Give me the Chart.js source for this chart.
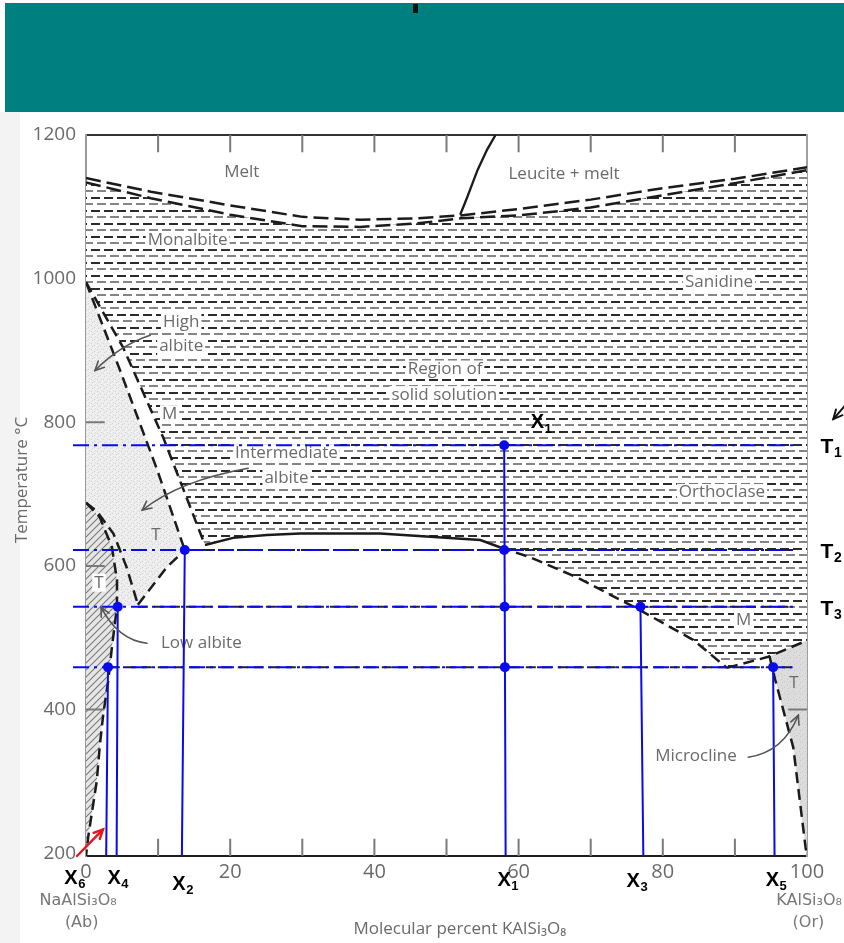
<!DOCTYPE html>
<html><head><meta charset="utf-8">
<script src="https://cdn.jsdelivr.net/npm/chart.js@4.4.1/dist/chart.umd.min.js"></script>
<style>
html,body{margin:0;padding:0;background:#fff;}
#wrap{position:relative;width:844px;height:943px;overflow:hidden;}
#strip{position:absolute;left:0;top:112px;width:20px;height:831px;background:#f3f3f3;}
#banner{position:absolute;left:5px;top:3px;width:839px;height:109px;background:#007f80;}
#mark{position:absolute;left:413px;top:4px;width:5px;height:9px;background:#111;}
canvas{position:absolute;left:0;top:0;}
</style></head><body>
<div id="wrap"><div id="strip"></div><canvas id="c" width="844" height="943"></canvas><div id="banner"></div><div id="mark"></div></div>
<script>
// ---------- data (x = mol % KAlSi3O8, y = temperature °C) ----------
const xTickValues = [0, 20, 40, 60, 80, 100];
const xMinorTicks = [10, 20, 30, 40, 50, 60, 70, 80, 90];
const yTickValues = [200, 400, 600, 800, 1000, 1200];
const yLeftInnerTicks = [400, 600, 800];
const yRightInnerTicks = [400];

const liquidus = [[0,1140],[9,1121],[20,1102],[30,1086],[38,1082],[46,1084],[52,1088],[60,1097],[70,1110],[80,1126],[90,1139],[100,1155]];
const solidus  = [[0,1134],[9,1112],[20,1089],[30,1073],[38,1072],[46,1077],[52,1084],[60,1088],[70,1099],[80,1116],[90,1133],[100,1151]];
const leucite  = [[51.9,1089],[52.9,1114],[54.3,1151],[55.6,1179],[56.8,1200]];
const lineA    = [[0,995],[4.7,873],[9.9,733],[13.7,622]];
const lineB    = [[0,995],[5.1,905],[10.7,779],[16.5,629]];
const solvusSolid  = [[16.5,629],[20.4,639],[25.1,643],[29.7,645],[40.8,645],[54.7,636],[57.4,626]];
const solvusDashed = [[57.4,626],[61.6,612],[68.1,584],[76.9,538],[84.2,497],[88.9,458]];
const rightArm = [[88.9,458],[94.5,473],[100,496]];
const lineE    = [[7.2,546],[11.2,598],[13.7,622]];
const lineD    = [[0,688],[1.5,676],[3.8,645],[5.6,599],[7.2,546]];
const lineC    = [[0,688],[1.9,668],[3.6,626],[4.3,580],[4.3,543],[3.6,487],[3.1,441],[2.4,394],[1.9,348],[1.5,301],[0.8,255],[0.3,222],[0,196]];
const microcline = [[94.8,474],[95.6,441],[98.1,347],[99.8,208],[100,196]];

const tempLevels = [768, 622, 543, 459];
const tempNames  = ['1', '2', '3'];
const tempLineStart = -1.8;
const tempLineEnd = [98.8, 98.1, 98.1, 98.0];
const tempUnderlayStart = [null, 16.5, 7.2, 3.3];

const compNames  = ['1', '2', '3', '4', '5', '6'];
const compTop    = [[58.0,768],[13.7,622],[76.9,543],[4.4,543],[95.3,459],[3.05,459]];
const compBottom = [[58.2,196],[13.3,196],[77.3,196],[4.25,196],[95.5,196],[2.8,196]];
const compDots   = [[58.0,768],[58.0,622],[58.05,543],[58.1,459],[13.7,622],[76.9,543],[4.4,543],[95.3,459],[3.05,459]];
const compLabelX = [58.0, 12.9, 75.9, 3.89, 95.2, -2.08];

const regionLabels = [
  ['Melt',21.6,1148.5,false],['Leucite + melt',66.3,1145.7,false],['Monalbite',14.1,1053.7,true],['Sanidine',87.8,995.2,true],
  ['High',13.2,939,true],['albite',13.2,906,true],['Region of',49.8,873.4,true],['solid solution',49.7,837.8,true],
  ['M',11.6,811.3,true],['Intermediate',27.8,757,true],['albite',27.8,722,true],['Orthoclase',88.2,702,true],
  ['T',9.7,642.8,false],['T',1.8,576.6,true],['Low albite',16.0,492.3,false],['M',91.2,524,true],
  ['T',98.2,437.3,false],['Microcline',84.6,335.6,false]
];
const pointerArrows = [
  [[8.9,921],[4.7,907],[1.25,872]],
  [[22.5,736],[13.0,719],[7.8,677.6]],
  [[8.46,492.3],[4.44,496.5],[2.08,542.5]],
  [[91.85,333.5],[96.7,340.5],[98.8,392]]
];

// ---------- helpers ----------
const P = a => a.map(([x, y]) => ({x, y}));
const ctx = document.getElementById('c').getContext('2d');
function tile(w, h, fn) { const c = document.createElement('canvas'); c.width = w; c.height = h; fn(c.getContext('2d'), w, h); return ctx.createPattern(c, 'repeat'); }
const patDash = tile(13, 13, g => {
  g.fillStyle = '#fff'; g.fillRect(0, 0, 13, 13);
  g.fillStyle = '#2b2b2b'; g.fillRect(0, 2, 9, 2);
  g.fillStyle = '#858585'; g.fillRect(6, 8, 7, 2); g.fillRect(0, 8, 2, 2);
});
const patStipple = tile(6, 6, g => {
  g.fillStyle = '#ececec'; g.fillRect(0, 0, 6, 6);
  g.fillStyle = '#d5d5d5'; [[1,1],[4,3],[2,4],[5,0]].forEach(([a,b]) => g.fillRect(a, b, 1, 1));
  g.fillStyle = '#fafafa'; [[3,0],[0,3],[5,5]].forEach(([a,b]) => g.fillRect(a, b, 1, 1));
});
const patGrey = tile(6, 6, g => {
  g.fillStyle = '#dcdcdc'; g.fillRect(0, 0, 6, 6);
  g.fillStyle = '#c8c8c8'; [[1,1],[4,3],[2,4]].forEach(([a,b]) => g.fillRect(a, b, 1, 1));
});
const patDiag = tile(7, 7, g => {
  g.fillStyle = '#e6e6e6'; g.fillRect(0, 0, 7, 7);
  g.strokeStyle = '#7a7a7a'; g.lineWidth = 1.1;
  [[0,7,7,0],[-2,2,2,-2],[5,9,9,5]].forEach(([a,b,c,d]) => { g.beginPath(); g.moveTo(a,b); g.lineTo(c,d); g.stroke(); });
});

const solidPoly = [...solidus, ...rightArm.slice().reverse(), ...solvusDashed.slice().reverse(), ...solvusSolid.slice().reverse(), ...lineB.slice().reverse()];
const stipplePoly = [...lineA, ...lineE.slice(0, -1).reverse(), ...lineC.filter(p => p[1] >= 543).reverse()];
const hatchPoly = [...lineC];
const greyPoly = [...microcline, rightArm[rightArm.length - 1]];

const base = {xAxisID: 'x', yAxisID: 'y', showLine: true, pointRadius: 0, pointHoverRadius: 0, tension: 0, fill: false};
function lineDs(label, pts, color, width, dash, order, extra) { return Object.assign({}, base, {label, data: pts, borderColor: color, borderWidth: width, borderDash: dash, order}, extra || {}); }
function fillDs(label, pts, pattern, order) { return Object.assign({}, base, {label, data: P(pts), fill: 'shape', backgroundColor: pattern, borderWidth: 0, borderColor: 'rgba(0,0,0,0)', order}); }

const tickLenT = 24, tickLenX = 2.6;
const tickPts = [];
xMinorTicks.forEach(v => { tickPts.push({x: v, y: 196}, {x: v, y: 196 + tickLenT}, {x: v, y: null}, {x: v, y: 1200}, {x: v, y: 1200 - tickLenT}, {x: v, y: null}); });
yLeftInnerTicks.forEach(v => { tickPts.push({x: 0, y: v}, {x: tickLenX, y: v}, {x: 0, y: null}); });
yRightInnerTicks.forEach(v => { tickPts.push({x: 100, y: v}, {x: 100 - tickLenX, y: v}, {x: 100, y: null}); });

const blueH = [], blackH = [];
tempLevels.forEach((t, i) => {
  blueH.push({x: tempLineStart, y: t}, {x: tempLineEnd[i], y: t}, {x: tempLineEnd[i], y: null});
  if (tempUnderlayStart[i] !== null) blackH.push({x: tempUnderlayStart[i], y: t}, {x: tempLineEnd[i], y: t}, {x: tempLineEnd[i], y: null});
});
const blueV = [];
compTop.forEach((p, i) => { blueV.push({x: p[0], y: p[1]}, {x: compBottom[i][0], y: compBottom[i][1]}, {x: p[0], y: null}); });

const K = '#1b1b1b', DASH = [11, 6], BLUE = '#0a0aee';
const datasets = [
  fillDs('hatchH', solidPoly, patDash, 10),
  fillDs('stipple', stipplePoly, patStipple, 12),
  fillDs('hatchDiag', hatchPoly, patDiag, 11),
  fillDs('greyRight', greyPoly, patGrey, 12),
  lineDs('ticks', tickPts, '#7a7a7a', 2, [], 6),
  lineDs('liquidus', P(liquidus), K, 2.5, [15, 6], 5),
  lineDs('solidus', P(solidus), K, 2.5, [15, 6], 5),
  lineDs('leucite', P(leucite), K, 2.3, [], 5),
  lineDs('lineA', P(lineA), K, 2.5, DASH, 5),
  lineDs('lineB', P(lineB), K, 2.5, DASH, 5),
  lineDs('solvusSolid', P(solvusSolid), K, 2.5, [], 5),
  lineDs('solvusDashed', P(solvusDashed), K, 2.5, DASH, 5),
  lineDs('rightArm', P(rightArm), K, 2.5, DASH, 5),
  lineDs('lineE', P(lineE), K, 2.5, DASH, 5),
  lineDs('lineD', P(lineD), K, 2.5, DASH, 5),
  lineDs('lineC', P(lineC), K, 2.5, DASH, 5),
  lineDs('microcline', P(microcline), K, 2.5, DASH, 5),
  lineDs('tempUnderlay', blackH, '#222', 2, [10, 6], 3, {clip: false}),
  lineDs('tempLines', blueH, BLUE, 2, [16, 5, 3, 5], 2, {clip: false}),
  lineDs('compLines', blueV, BLUE, 2, [], 2, {clip: false}),
  Object.assign({}, base, {label: 'compDots', data: P(compDots), showLine: false, pointRadius: 5, pointBackgroundColor: BLUE, pointBorderWidth: 0, order: 1, clip: false})
];

function PX(ch, x) { return ch.scales.x.getPixelForValue(x); }
function PY(ch, y) { return ch.scales.y.getPixelForValue(y); }
const GREY_TXT = '#6b6b6b';
function arrowHead(c, x1, y1, fx, fy, size) {
  const a = Math.atan2(y1 - fy, x1 - fx);
  c.beginPath();
  c.moveTo(x1 - size * Math.cos(a - 0.45), y1 - size * Math.sin(a - 0.45));
  c.lineTo(x1, y1);
  c.lineTo(x1 - size * Math.cos(a + 0.45), y1 - size * Math.sin(a + 0.45));
  c.stroke();
}
function curveArrow(ch, pts, color, width, head) {
  const c = ch.ctx;
  const [p0, p1, p2] = pts.map(([x, y]) => [PX(ch, x), PY(ch, y)]);
  c.save(); c.strokeStyle = color; c.lineWidth = width; c.lineCap = 'round';
  c.beginPath(); c.moveTo(p0[0], p0[1]); c.quadraticCurveTo(p1[0], p1[1], p2[0], p2[1]); c.stroke();
  arrowHead(c, p2[0], p2[1], p1[0], p1[1], head);
  c.restore();
}
function subText(c, main, sub, cx, cy, big, small) {
  c.fillStyle = '#000';
  c.font = 'bold ' + big + 'px "Liberation Sans", Arial, sans-serif';
  c.textAlign = 'center'; c.textBaseline = 'middle';
  c.fillText(main, cx, cy);
  const w = c.measureText(main).width;
  c.font = 'bold ' + small + 'px "Liberation Sans", Arial, sans-serif';
  c.textAlign = 'left';
  c.fillText(sub, cx + w / 2 + 0.5, cy + 6);
}

const annot = {
  id: 'annot',
  afterDatasetDraw(ch, args) {
    if (ch.data.datasets[args.index].label !== 'hatchH') return;
    const c = ch.ctx; c.save();
    c.font = '17px "Open Sans", sans-serif'; c.textAlign = 'center'; c.textBaseline = 'middle';
    regionLabels.forEach(([t, x, y, bg]) => {
      const X = PX(ch, x), Y = PY(ch, y);
      if (bg) { const w = c.measureText(t).width + 4; c.fillStyle = '#fff'; c.fillRect(X - w / 2, Y - 9, w, 18); }
      c.fillStyle = GREY_TXT; c.fillText(t, X, Y);
    });
    c.restore();
  },
  afterDatasetsDraw(ch) {
    pointerArrows.forEach(a => curveArrow(ch, a, '#555', 1.6, 10));
  },
  afterDraw(ch) {
    const c = ch.ctx; c.save();
    const bottom = ch.scales.y.getPixelForValue(196);
    // red pointer to X6
    const r0 = [PX(ch, -1.25), PY(ch, 196)], r1 = [PX(ch, 2.36), PY(ch, 233)];
    c.strokeStyle = '#e8141b'; c.lineWidth = 2.4; c.lineCap = 'round';
    c.beginPath(); c.moveTo(r0[0], r0[1]); c.lineTo(r1[0], r1[1]); c.stroke();
    arrowHead(c, r1[0], r1[1], r0[0], r0[1], 10);
    // small black pointer at right
    const b0 = [PX(ch, 105.7), PY(ch, 828)], b1 = [PX(ch, 103.65), PY(ch, 804.4)];
    c.strokeStyle = '#111'; c.lineWidth = 2;
    c.beginPath(); c.moveTo(b0[0], b0[1]); c.lineTo(b1[0], b1[1]); c.stroke();
    arrowHead(c, b1[0], b1[1], b0[0], b0[1], 10);
    // end-member formulas
    c.fillStyle = '#777'; c.font = '16px "DejaVu Sans", "Open Sans", sans-serif'; c.textAlign = 'center'; c.textBaseline = 'middle';
    c.fillText('NaAlSi\u2083O\u2088', PX(ch, -1.1), bottom + 45);
    c.fillText('(Ab)', PX(ch, -0.6), bottom + 67);
    c.fillText('KAlSi\u2083O\u2088', PX(ch, 100.3), bottom + 45);
    c.fillText('(Or)', PX(ch, 100.2), bottom + 67);
    // temperature labels
    tempNames.forEach((n, i) => subText(c, 'T', n, 827, PY(ch, tempLevels[i]) + 2, 21, 14));
    // composition labels
    const bottomOffsets = [24, 28, 25, 22, 24, 22];
    compNames.forEach((n, i) => subText(c, 'X', n, PX(ch, compLabelX[i]), bottom + bottomOffsets[i], 20, 13));
    subText(c, 'X', '1', PX(ch, 62.6), PY(ch, 799), 20, 13);
    c.restore();
  }
};

new Chart(ctx, {
  type: 'scatter',
  data: {datasets},
  plugins: [annot],
  options: {
    responsive: false, animation: false, devicePixelRatio: 1, events: [],
    layout: {padding: {top: 135, right: 37, bottom: 0, left: 0}},
    plugins: {legend: {display: false}, tooltip: {enabled: false}},
    scales: {
      x: {
        type: 'linear', position: 'bottom', min: 0, max: 100,
        ticks: {stepSize: 20, autoSkip: false, maxRotation: 0, color: '#6a6a6a', padding: 4,
                font: {family: '"Open Sans", sans-serif', size: 20},
                callback: v => xTickValues.includes(v) ? String(v) : ''},
        grid: {display: false, drawTicks: false},
        border: {display: true, color: '#1e1e1e', width: 2},
        title: {display: true, text: '\u00a0\u00a0\u00a0\u00a0\u00a0\u00a0Molecular percent KAlSi\u2083O\u2088', color: '#6a6a6a',
                font: {family: '"Open Sans", sans-serif', size: 17}, padding: {top: 4, bottom: 4}},
        afterFit: s => { s.height = 87; s.paddingLeft = 0; s.paddingRight = 0; }
      },
      xTop: {
        type: 'linear', position: 'top', min: 0, max: 100, display: true,
        ticks: {display: false}, grid: {display: false, drawTicks: false},
        border: {display: true, color: '#333', width: 2},
        afterFit: s => { s.height = 0; }
      },
      y: {
        type: 'linear', position: 'left', min: 196, max: 1200, bounds: 'data',
        afterBuildTicks: s => { s.ticks = yTickValues.map(v => ({value: v})); },
        ticks: {color: '#6a6a6a', padding: 10, font: {family: '"Open Sans", sans-serif', size: 19},
                callback: v => String(v)},
        grid: {display: false, drawTicks: false},
        border: {display: true, color: '#9a9a9a', width: 2},
        title: {display: true, text: '\u00a0\u00a0\u00a0\u00a0\u00a0\u00a0\u00a0Temperature \u00b0C', color: '#6a6a6a',
                font: {family: '"Open Sans", sans-serif', size: 17}, padding: {top: 12, bottom: 4}},
        afterFit: s => { s.width = 86; }
      },
      yRight: {
        type: 'linear', position: 'right', min: 196, max: 1200, display: true,
        ticks: {display: false}, grid: {display: false, drawTicks: false},
        border: {display: true, color: '#a0a0a0', width: 2},
        afterFit: s => { s.width = 0; }
      }
    }
  }
});
</script>
</body></html>
